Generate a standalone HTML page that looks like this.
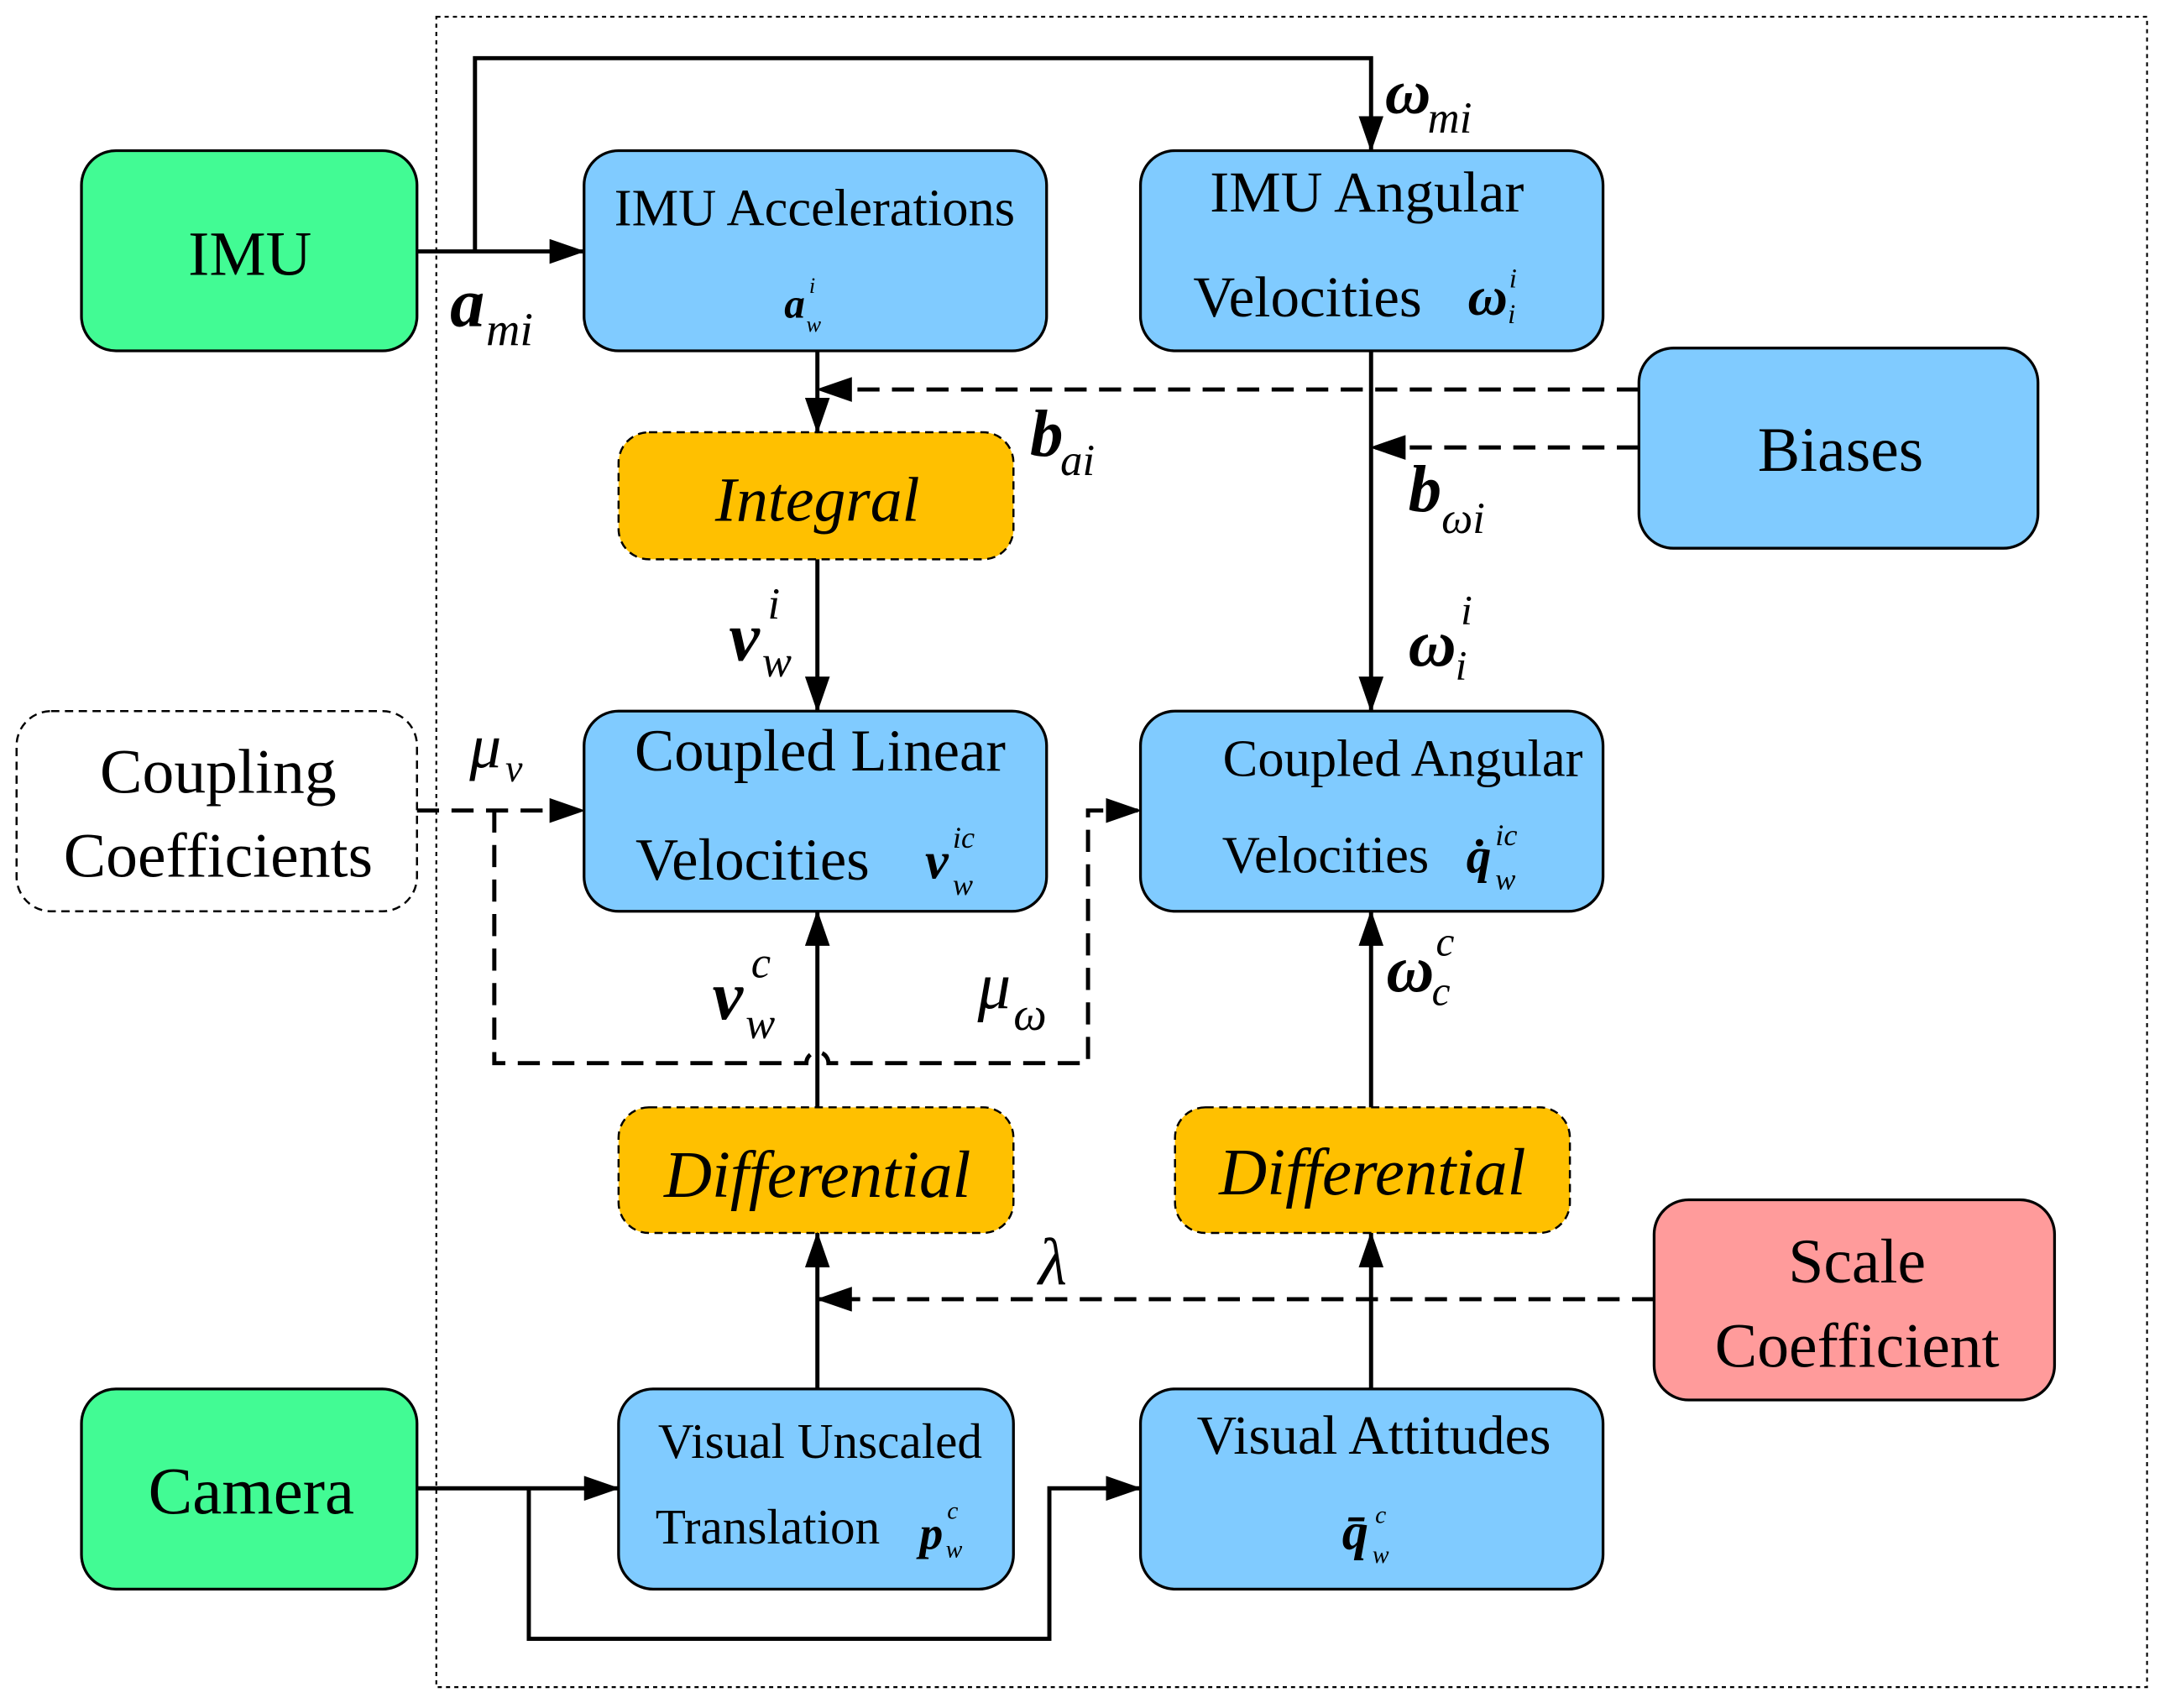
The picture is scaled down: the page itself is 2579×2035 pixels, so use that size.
<!DOCTYPE html>
<html><head><meta charset="utf-8"><style>
html,body{margin:0;padding:0;background:#fff;}
svg{display:block;}
text{font-family:"Liberation Serif",serif;}
.b{font-weight:bold;font-style:italic;}
.i{font-style:italic;}
</style></head><body>
<svg width="2579" height="2035" viewBox="0 0 1568 1237" xmlns="http://www.w3.org/2000/svg">
<defs>
<marker id="A" markerWidth="26" markerHeight="18" refX="25" refY="9" orient="auto" markerUnits="userSpaceOnUse"><path d="M0,0 L26,9 L0,18 z" fill="#000"/></marker>
</defs>
<rect x="316" y="12" width="1239" height="1210" fill="none" stroke="#000" stroke-width="1.3" stroke-dasharray="3,3"/>
<g stroke="#000" stroke-width="2">
<rect x="59" y="109" width="243" height="145" rx="25" fill="#42FB94"/>
<rect x="423" y="109" width="335" height="145" rx="25" fill="#80CBFF"/>
<rect x="826" y="109" width="335" height="145" rx="25" fill="#80CBFF"/>
<rect x="1187" y="252" width="289" height="145" rx="25" fill="#80CBFF"/>
<rect x="423" y="515" width="335" height="145" rx="25" fill="#80CBFF"/>
<rect x="826" y="515" width="335" height="145" rx="25" fill="#80CBFF"/>
<rect x="1198" y="869" width="290" height="145" rx="25" fill="#FF9B9B"/>
<rect x="59" y="1006" width="243" height="145" rx="25" fill="#42FB94"/>
<rect x="448" y="1006" width="286" height="145" rx="25" fill="#80CBFF"/>
<rect x="826" y="1006" width="335" height="145" rx="25" fill="#80CBFF"/>
</g>
<g stroke="#000" stroke-width="1.5" stroke-dasharray="6,4">
<rect x="448" y="313" width="286" height="92" rx="22" fill="#FFC000"/>
<rect x="448" y="802" width="286" height="91" rx="22" fill="#FFC000"/>
<rect x="851" y="802" width="286" height="91" rx="22" fill="#FFC000"/>
<rect x="12" y="515" width="290" height="145" rx="25" fill="#fff"/>
</g>
<g stroke="#000" stroke-width="3" fill="none">
<line x1="302" y1="182" x2="423" y2="182" marker-end="url(#A)"/>
<polyline points="344,182 344,42 993,42 993,109" marker-end="url(#A)"/>
<line x1="592" y1="254" x2="592" y2="313" marker-end="url(#A)"/>
<line x1="993" y1="254" x2="993" y2="515" marker-end="url(#A)"/>
<line x1="592" y1="405" x2="592" y2="515" marker-end="url(#A)"/>
<line x1="592" y1="802" x2="592" y2="660" marker-end="url(#A)"/>
<line x1="993" y1="802" x2="993" y2="660" marker-end="url(#A)"/>
<line x1="592" y1="1006" x2="592" y2="893" marker-end="url(#A)"/>
<line x1="993" y1="1006" x2="993" y2="893" marker-end="url(#A)"/>
<line x1="302" y1="1078" x2="448" y2="1078" marker-end="url(#A)"/>
<polyline points="383,1078 383,1187 760,1187 760,1078 826,1078" marker-end="url(#A)"/>
</g>
<g stroke="#000" stroke-width="3" fill="none" stroke-dasharray="16,9">
<line x1="1187" y1="282" x2="592" y2="282" marker-end="url(#A)"/>
<line x1="1187" y1="324" x2="993" y2="324" marker-end="url(#A)"/>
<line x1="302" y1="587" x2="423" y2="587" marker-end="url(#A)"/>
<path d="M358,587 L358,770 L584,770 A8,8 0 0 1 600,770 L788,770 L788,587 L826,587" marker-end="url(#A)"/>
<line x1="1198" y1="941" x2="592" y2="941" marker-end="url(#A)"/>
</g>
<g font-size="40" text-anchor="middle">
<text x="181" y="199" font-size="46">IMU</text>
<text x="590" y="163" font-size="38">IMU Accelerations</text>
<text x="990" y="153" font-size="42">IMU Angular</text>
<text x="947" y="229" font-size="42">Velocities</text>
<text x="1333" y="341" font-size="46">Biases</text>
<text x="592" y="377" class="i" font-size="46">Integral</text>
<text x="594" y="558" font-size="43">Coupled Linear</text>
<text x="545" y="637" font-size="43">Velocities</text>
<text x="1016" y="562" font-size="38">Coupled Angular</text>
<text x="960" y="632" font-size="38">Velocities</text>
<text x="158" y="574" font-size="46">Coupling</text>
<text x="158" y="635" font-size="46">Coefficients</text>
<text x="592" y="867" class="i" font-size="48">Differential</text>
<text x="994" y="865" class="i" font-size="48">Differential</text>
<text x="1345" y="929" font-size="46">Scale</text>
<text x="1345" y="990" font-size="46">Coefficient</text>
<text x="182" y="1096" font-size="48">Camera</text>
<text x="594" y="1056" font-size="36">Visual Unscaled</text>
<text x="556" y="1118" font-size="36">Translation</text>
<text x="995" y="1053" font-size="40">Visual Attitudes</text>
</g>
<g>
<text x="568" y="230" class="b" font-size="30">a</text><text x="586" y="212" class="i" font-size="16">i</text><text x="584" y="240" class="i" font-size="16">w</text>
<text x="1063" y="228" class="b" font-size="40">ω</text><text x="1093" y="208" class="i" font-size="20">i</text><text x="1092" y="234" class="i" font-size="20">i</text>
<text x="670" y="636" class="b" font-size="38">v</text><text x="690" y="614" class="i" font-size="22">ic</text><text x="690" y="648" class="i" font-size="22">w</text>
<text x="1062" y="632" class="b" font-size="36">q̇</text><text x="1083" y="612" class="i" font-size="22">ic</text><text x="1083" y="644" class="i" font-size="22">w</text>
<text x="666" y="1122" class="b" font-size="34">p</text><text x="686" y="1100" class="i" font-size="18">c</text><text x="685" y="1128" class="i" font-size="18">w</text>
<text x="972" y="1122" class="b" font-size="38">q̄</text><text x="996" y="1103" class="i" font-size="18">c</text><text x="994" y="1132" class="i" font-size="18">w</text>
<text x="1003" y="82" class="b" font-size="46">ω</text><text x="1034" y="96" class="i" font-size="32">mi</text>
<text x="326" y="236" class="b" font-size="50">a</text><text x="352" y="250" class="i" font-size="34">mi</text>
<text x="746" y="330" class="b" font-size="48">b</text><text x="768" y="344" class="i" font-size="32">ai</text>
<text x="1020" y="370" class="b" font-size="48">b</text><text x="1044" y="386" class="i" font-size="32">ωi</text>
<text x="528" y="478" class="b" font-size="50">v</text><text x="556" y="448" class="i" font-size="32">i</text><text x="552" y="490" class="i" font-size="32">w</text>
<text x="1020" y="482" class="b" font-size="48">ω</text><text x="1058" y="452" class="i" font-size="30">i</text><text x="1054" y="492" class="i" font-size="30">i</text>
<text x="340" y="556" class="i" font-size="46">μ</text><text x="366" y="566" class="i" font-size="28">v</text>
<text x="516" y="738" class="b" font-size="50">v</text><text x="544" y="708" class="i" font-size="32">c</text><text x="540" y="752" class="i" font-size="32">w</text>
<text x="708" y="730" class="i" font-size="48">μ</text><text x="734" y="746" class="i" font-size="34">ω</text>
<text x="1004" y="718" class="b" font-size="48">ω</text><text x="1040" y="692" class="i" font-size="30">c</text><text x="1037" y="728" class="i" font-size="30">c</text>
<text x="752" y="930" class="i" font-size="48">λ</text>
</g>
</svg>
</body></html>
